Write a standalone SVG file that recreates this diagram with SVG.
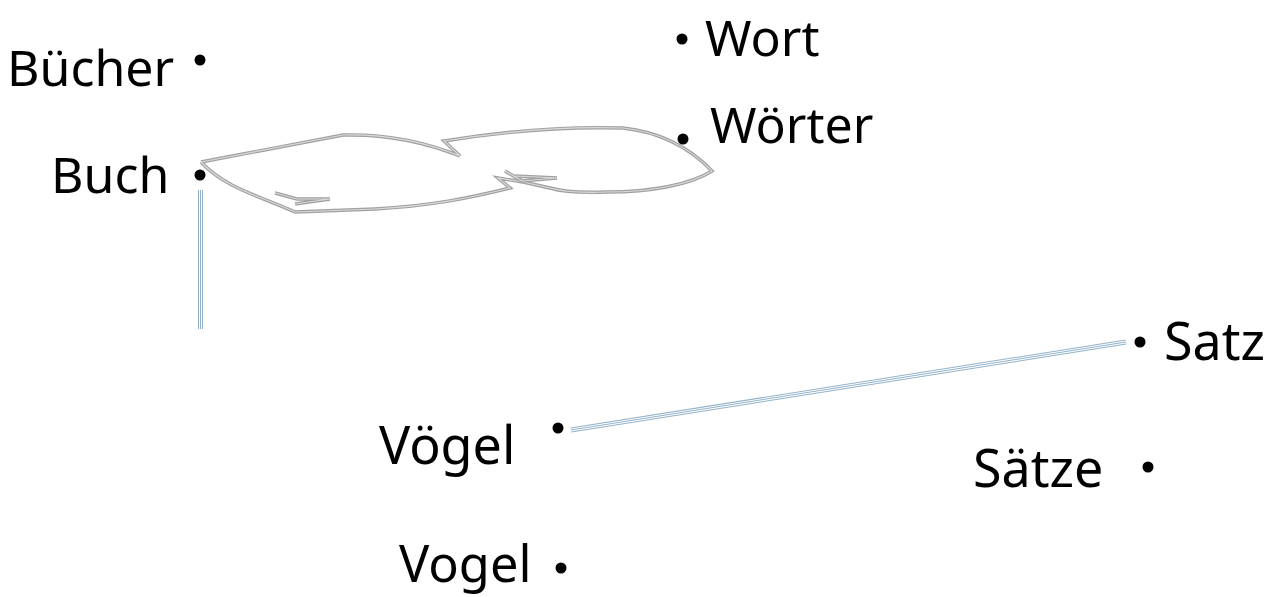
<svg xmlns="http://www.w3.org/2000/svg" width="1279" height="597" viewBox="0 0 1279 597">
<style>
.lbl{font-family:"Noto Sans","Open Sans",sans-serif;font-size:50px;fill:#000}
.lbl2{font-family:"Noto Sans","Open Sans",sans-serif;font-size:52px;fill:#000}
.dot{fill:#000}
.gOut{fill:none;stroke:#a0a0a0;stroke-width:3.5;stroke-linejoin:miter;stroke-linecap:butt}
.gIn{fill:none;stroke:#dadada;stroke-width:1.2;stroke-linejoin:miter}
.bOut{fill:none;stroke:#93b2c9;stroke-width:5}
.bMid{fill:none;stroke:#ffffff;stroke-width:3}
.bIn{fill:none;stroke:#93b2c9;stroke-width:1}
</style>
<defs>
<path id="loop" d="M201,162 L343,135 C380,134 420,140 460,156 L444,141 C500,132 560,126 623,128 C660,132 690,148 712,171 C690,185 650,192 607,192 C580,193 560,191 550,188 L523,182 L498,178 L510,188 C470,198 430,206 375,209 L295,212 C260,196 225,188 201,162"/>
<path id="arL" d="M275,193 L297,199 L330,199 L295,204"/>
<path id="arR" d="M505,171 L522,181 L557,178 L515,176"/>
<path id="v1" d="M200.5,190 L200.5,329"/>
<path id="d1" d="M571,430 L1126,342"/>
</defs>
<g id="connectors">
<use href="#loop" class="gOut"/><use href="#loop" class="gIn"/>
<use href="#arL" class="gOut"/><use href="#arL" class="gIn"/>
<use href="#arR" class="gOut"/><use href="#arR" class="gIn"/>
<use href="#v1" class="bOut"/><use href="#v1" class="bMid"/><use href="#v1" class="bIn"/>
<use href="#d1" class="bOut"/><use href="#d1" class="bMid"/><use href="#d1" class="bIn"/>
</g>
<g id="node-buecher"><circle class="dot" cx="200" cy="60" r="5.5"/><text class="lbl" x="7" y="86">Bücher</text></g>
<g id="node-buch"><circle class="dot" cx="200" cy="175" r="5.5"/><text class="lbl" x="51" y="193">Buch</text></g>
<g id="node-wort"><circle class="dot" cx="682" cy="39" r="5.5"/><text class="lbl" x="705" y="56">Wort</text></g>
<g id="node-woerter"><circle class="dot" cx="683" cy="139" r="5.5"/><text class="lbl" x="710" y="143">Wörter</text></g>
<g id="node-satz"><circle class="dot" cx="1140" cy="342" r="5.5"/><text class="lbl2" x="1164" y="360">Satz</text></g>
<g id="node-saetze"><circle class="dot" cx="1148" cy="467" r="5.5"/><text class="lbl2" x="973" y="487">Sätze</text></g>
<g id="node-voegel"><circle class="dot" cx="558" cy="428" r="5.5"/><text class="lbl2" x="379" y="464">Vögel</text></g>
<g id="node-vogel"><circle class="dot" cx="561" cy="568" r="5.5"/><text class="lbl2" x="399" y="582" style="font-size:50.5px">Vogel</text></g>
</svg>
